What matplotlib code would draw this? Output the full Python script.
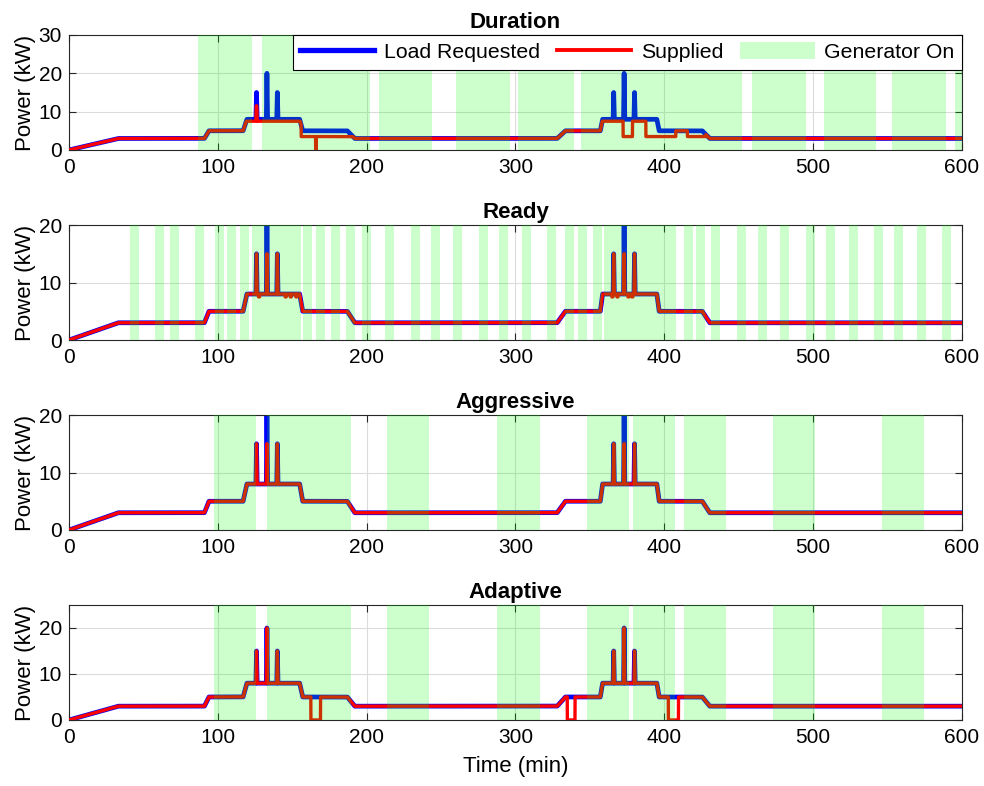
import numpy as np
import matplotlib
matplotlib.use("Agg")
import matplotlib.pyplot as plt
from matplotlib.patches import Patch
from matplotlib.lines import Line2D

plt.rcParams['font.family'] = ['Liberation Sans', 'DejaVu Sans']

# requested load profile, breakpoints (min, kW)
load_time = [0, 33, 91, 94, 117, 119.5, 155, 157, 187, 192,
             328, 333.5, 357, 358.5, 395, 396.5, 425.5, 430.5, 600]
load_kw = [0, 3, 3, 5, 5, 8, 8, 5, 5, 3,
           3, 5, 5, 8, 8, 5, 5, 3, 3]
spike_time = [126, 133, 140, 366, 373, 380]
spike_kw = [15, 20, 15, 15, 20, 15]

titles = ['Duration', 'Ready', 'Aggressive', 'Adaptive']
y_max = [30, 20, 20, 25]
y_ticks = [[0, 10, 20, 30], [0, 10, 20], [0, 10, 20], [0, 10, 20]]

# generator on intervals (min)
gen_duration = [(87, 123), (130, 202), (208, 244), (260, 296), (302, 339),
                (344, 452), (459, 495), (507, 542), (553, 589), (595, 600)]
gen_ready = [(41, 47), (57.8, 63.8), (67.9, 73.9), (84.7, 90.7), (98.1, 104.2),
             (105.9, 112), (114.9, 121), (122.8, 156.1), (157.5, 163.5),
             (166.2, 172), (176.1, 182.1), (186, 192), (196.7, 202.8),
             (212.4, 218.4), (229.8, 235.8), (243, 249.1), (258.3, 264.3),
             (275.5, 281.5), (288.9, 295), (304.2, 310.3), (321.4, 327.5),
             (333.3, 339.4), (342.3, 348.3), (352.2, 358), (359.5, 407.7),
             (413.3, 419.4), (421.6, 427.4), (431.7, 437.5), (449.1, 455.2),
             (463, 469.3), (477.8, 483.9), (495.1, 501.1), (508.7, 514.8),
             (524, 530), (541, 547), (554.6, 560.7), (569.9, 576), (586.9, 592.9)]
gen_aggressive = [(97.4, 125.4), (133.3, 189.3), (213.9, 241.9), (287.8, 316.5),
                  (347.9, 376.3), (379, 407.3), (413.3, 441.3), (473.3, 501.3),
                  (546.6, 574.6)]
gen_adaptive = [(97.4, 125.4), (133.3, 189.3), (213.9, 241.9), (287.8, 316.5),
                (347.9, 376.3), (379, 407.3), (413.3, 441.3), (473.3, 501.3),
                (546.6, 574.6)]

# supplied power limits (start, end, kW) and outages (start, end)
cap_duration = [(117, 125.6, 7.5), (125.6, 126.4, 11.5), (126.4, 156, 7.5),
                (156, 192, 3.5), (357, 372.3, 7.5), (372.3, 378.6, 3.5),
                (378.6, 387.6, 7.5), (387.6, 407.7, 3.5), (415.5, 428, 3.5)]
cap_ready = [(127.3, 128.1, 7.5), (132, 134, 15), (145.2, 146, 7.5),
             (148.6, 149.4, 7.5), (152.4, 153.2, 7.5), (364.7, 365.5, 7.5),
             (368.1, 368.9, 7.5), (372, 374, 15), (375.5, 376.3, 7.5),
             (378.1, 378.9, 7.5)]
cap_aggressive = [(132, 134, 15), (372, 374, 15)]
cap_adaptive = []
off_duration = [(165.7, 166.1)]
off_ready = []
off_aggressive = []
off_adaptive = [(162.5, 169), (334.8, 340), (402.7, 409.5)]

gens = [gen_duration, gen_ready, gen_aggressive, gen_adaptive]
caps = [cap_duration, cap_ready, cap_aggressive, cap_adaptive]
offs = [off_duration, off_ready, off_aggressive, off_adaptive]


def requested(t):
    vt = list(load_time)
    vy = list(load_kw)
    for ts, pk in zip(spike_time, spike_kw):
        base = np.interp(ts, load_time, load_kw)
        vt += [ts - 0.4, ts, ts + 0.4]
        vy += [base, pk, base]
    order = np.argsort(vt, kind='stable')
    return np.interp(t, np.array(vt)[order], np.array(vy)[order])


def supplied(t, load, cap, off):
    s = load.copy()
    for a, b, c in cap:
        m = (t >= a) & (t < b)
        s[m] = np.minimum(s[m], c)
    for a, b in off:
        s[(t >= a) & (t < b)] = 0
    return s


t = np.arange(0, 600.001, 0.02)
load = requested(t)

fig = plt.figure(figsize=(9.84, 7.86), dpi=100)
bottoms = [0.8092, 0.5674, 0.3257, 0.0840]

for i in range(4):
    ax = fig.add_axes([0.0701, bottoms[i], 0.9075, 0.1463])
    ax.plot(t, load, color=(0, 0, 1), lw=3.4, zorder=2)
    ax.plot(t, supplied(t, load, caps[i], offs[i]), color=(1, 0, 0), lw=2.4, zorder=3)
    for a, b in gens[i]:
        ax.axvspan(a, b, color=(0, 1, 0), alpha=0.2, lw=0, zorder=4)
    ax.set_xlim(0, 600)
    ax.set_ylim(0, y_max[i])
    ax.set_xticks(range(0, 601, 100))
    ax.set_yticks(y_ticks[i])
    ax.grid(True, color=(0.86, 0.86, 0.86), lw=0.8, zorder=0)
    ax.set_axisbelow(True)
    ax.tick_params(direction='in', top=True, right=True, labelsize=15,
                   length=5, width=0.8, color=(0.15, 0.15, 0.15))
    ax.tick_params(axis='x', pad=6)
    ax.tick_params(axis='y', pad=5)
    for sp in ax.spines.values():
        sp.set_color((0.15, 0.15, 0.15))
        sp.set_linewidth(0.8)
    ax.set_title(titles[i], fontsize=16, fontweight='bold', pad=5)
    ax.set_ylabel('Power (kW)', fontsize=16, labelpad=2)
    if i == 0:
        handles = [Line2D([], [], color=(0, 0, 1), lw=3.8),
                   Line2D([], [], color=(1, 0, 0), lw=2.8),
                   Patch(facecolor=(0.8, 1, 0.8), edgecolor='none')]
        leg = ax.legend(handles, ['Load Requested', 'Supplied', 'Generator On'],
                        loc='upper right', ncol=3, fontsize=15.3, frameon=True,
                        fancybox=False, framealpha=1, edgecolor='black',
                        borderaxespad=0, handlelength=3.5, handleheight=0.85,
                        handletextpad=0.45, columnspacing=0.8, borderpad=0.35)
        leg.get_frame().set_linewidth(0.8)
        leg.set_zorder(10)
    if i == 3:
        ax.set_xlabel('Time (min)', fontsize=16, labelpad=6)

fig.savefig('out.png', dpi=100)
